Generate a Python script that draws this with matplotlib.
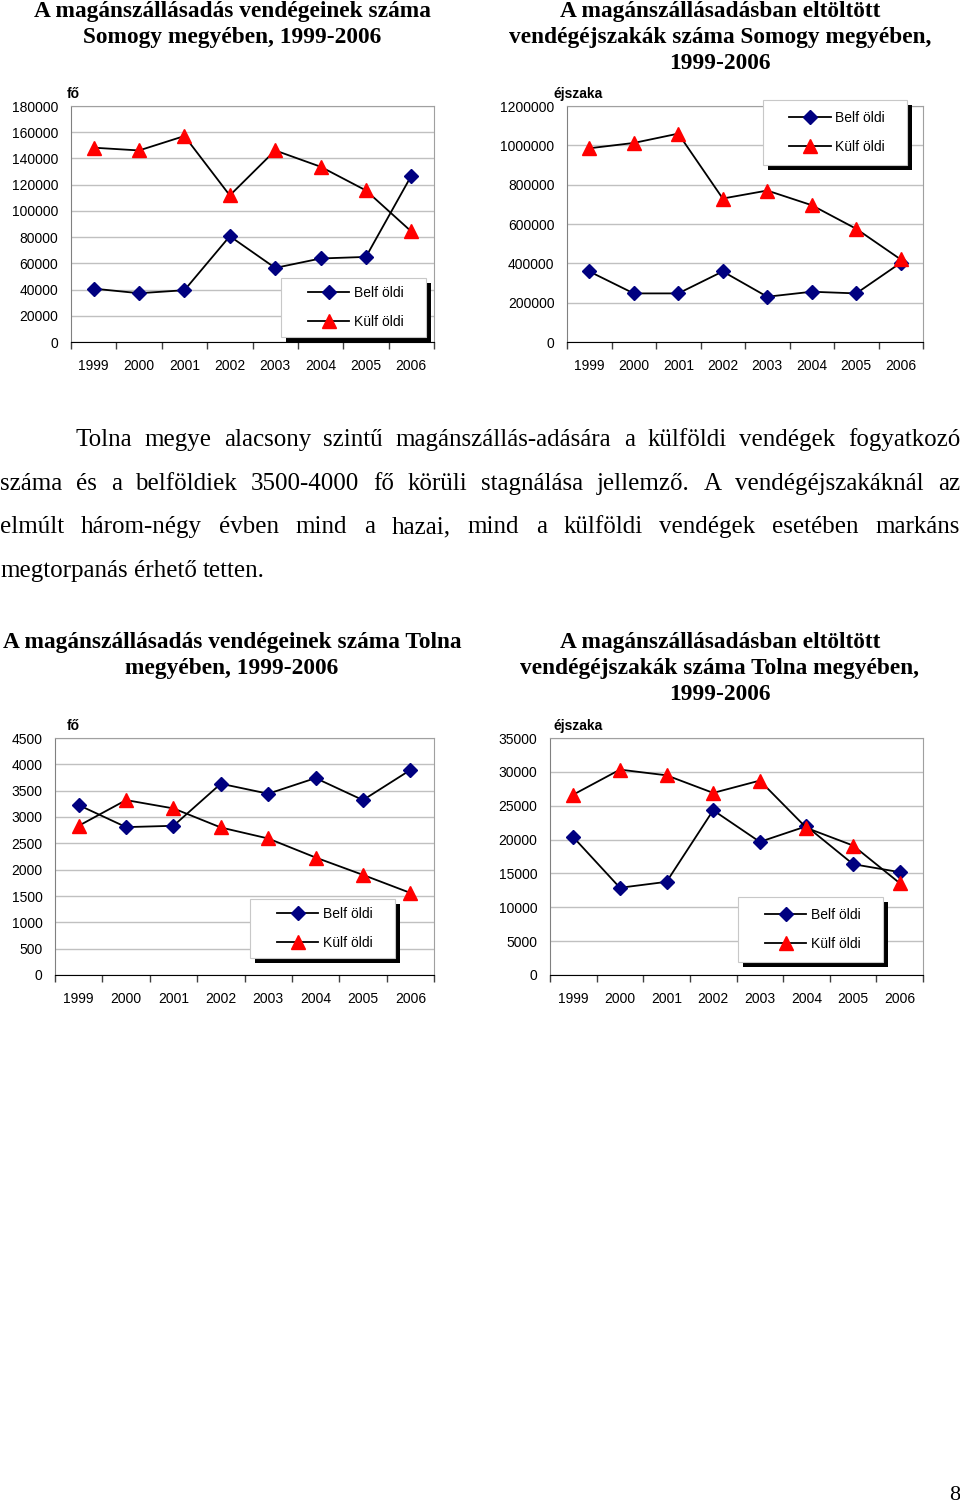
import matplotlib
matplotlib.use('Agg')
import matplotlib.pyplot as plt
from matplotlib.patches import Rectangle

years = ['1999', '2000', '2001', '2002', '2003', '2004', '2005', '2006']

somogy_guests_bel = [40700, 37200, 39500, 80700, 56500, 63700, 64900, 126800]
somogy_guests_kul = [148200, 146100, 157100, 111800, 146100, 133700, 115600, 84300]
somogy_nights_bel = [358800, 247100, 247100, 358800, 230200, 255600, 247100, 402800]
somogy_nights_kul = [985000, 1012100, 1059500, 729500, 770100, 695600, 575500, 419700]
tolna_guests_bel = [3226, 2808, 2833, 3632, 3442, 3739, 3321, 3892]
tolna_guests_kul = [2833, 3321, 3163, 2801, 2592, 2231, 1901, 1559]
tolna_nights_bel = [20350, 12880, 13760, 24330, 19660, 21970, 16370, 15190]
tolna_nights_kul = [26640, 30330, 29490, 26890, 28710, 21730, 19120, 13570]

label_bel = 'Belf öldi'
label_kul = 'Külf öldi'

title1 = ['A magánszállásadás vendégeinek száma', 'Somogy megyében, 1999-2006']
title2 = ['A magánszállásadásban eltöltött', 'vendégéjszakák száma Somogy megyében,', '1999-2006']
title3 = ['A magánszállásadás vendégeinek száma Tolna', 'megyében, 1999-2006']
title4 = ['A magánszállásadásban eltöltött', 'vendégéjszakák száma Tolna megyében,', '1999-2006']

para = [
    'Tolna megye alacsony szintű magánszállás-adására a külföldi vendégek fogyatkozó',
    'száma és a belföldiek 3500-4000 fő körüli stagnálása jellemző. A vendégéjszakáknál az',
    'elmúlt három-négy évben mind a hazai, mind a külföldi vendégek esetében markáns',
    'megtorpanás érhető tetten.',
]

W, H = 960, 1505
SANS = ['Liberation Sans', 'DejaVu Sans']
SERIF = ['Liberation Serif', 'DejaVu Serif']
plt.rcParams['font.family'] = SANS

fig = plt.figure(figsize=(W / 100, H / 100), dpi=100)


def fx(x):
    return x / W


def fy(y):
    return 1 - y / H


def chart(box, bel, kul, ymax, ystep, unit, unit_xy, leg):
    l, t, r, b = box
    ax = fig.add_axes([fx(l), fy(b), (r - l) / W, (b - t) / H])
    x = list(range(len(years)))
    ln1, = ax.plot(x, bel, color='black', lw=1.3, marker='D', ms=7,
                   mfc='#000080', mec='#000080', label=label_bel, zorder=3)
    ln2, = ax.plot(x, kul, color='black', lw=1.3, marker='^', ms=9.5,
                   mfc='#ff0000', mec='#ff0000', label=label_kul, zorder=3)
    ax.set_xlim(-0.5, len(years) - 0.5)
    ax.set_ylim(0, ymax)
    ax.set_yticks(range(0, ymax + 1, ystep))
    ax.set_yticklabels([str(v) for v in range(0, ymax + 1, ystep)], fontsize=10)
    ax.set_xticks(x)
    ax.set_xticklabels(years, fontsize=10)
    ax.set_xticks([i - 0.5 for i in range(len(years) + 1)], minor=True)
    ax.tick_params(axis='x', which='major', length=0, pad=12)
    ax.tick_params(axis='x', which='minor', length=5, width=1, color='#404040')
    ax.tick_params(axis='y', length=0, pad=9)
    ax.grid(axis='y', color='#c0c0c0', lw=1)
    ax.set_axisbelow(True)
    ax.spines['bottom'].set_color('black')
    ax.spines['left'].set_color('#808080')
    for s in ('top', 'right'):
        ax.spines[s].set_color('#a0a0a0')

    fig.text(fx(unit_xy[0]), fy(unit_xy[1]), unit, fontsize=10, fontweight='bold',
             ha='left', va='baseline')

    # legend frame with Excel-like drop shadow
    ll, lt, lr, lb = leg
    ax.add_patch(Rectangle((fx(ll + 5), fy(lb + 5)), (lr - ll) / W, (lb - lt) / H,
                           transform=fig.transFigure, facecolor='black',
                           edgecolor='none', zorder=5, clip_on=False))
    ax.add_patch(Rectangle((fx(ll), fy(lb)), (lr - ll) / W, (lb - lt) / H,
                           transform=fig.transFigure, facecolor='white',
                           edgecolor='#c8c8c8', lw=0.8, zorder=6, clip_on=False))
    lg = ax.legend(handles=[ln1, ln2], loc='center',
                   bbox_to_anchor=(fx((ll + lr) / 2 + 2), fy((lt + lb) / 2)),
                   bbox_transform=fig.transFigure, frameon=False, fontsize=10,
                   handlelength=3.0, handletextpad=0.3, labelspacing=1.05,
                   borderpad=0)
    lg.set_zorder(7)
    return ax


chart((71, 106, 434, 342), somogy_guests_bel, somogy_guests_kul, 180000, 20000,
      'fő', (67, 98), (281, 278, 426, 337))
chart((567, 106, 923, 342), somogy_nights_bel, somogy_nights_kul, 1200000, 200000,
      'éjszaka', (553, 98), (763, 100, 907, 165))
chart((55, 738, 434, 975), tolna_guests_bel, tolna_guests_kul, 4500, 500,
      'fő', (67, 730), (250, 899, 395, 958))
chart((550, 738, 923, 975), tolna_nights_bel, tolna_nights_kul, 35000, 5000,
      'éjszaka', (553, 730), (738, 897, 883, 962))

# chart titles, one text per line
for lines, cx, base in [(title1, 232, 17), (title2, 720, 17), (title3, 232, 648), (title4, 720, 648)]:
    for k, s in enumerate(lines):
        fig.text(fx(cx), fy(base + 26 * k), s, family=SERIF, fontsize=16.8,
                 fontweight='bold', ha='center', va='baseline')

# justified paragraph
renderer = fig.canvas.get_renderer()
baselines = [446, 490, 533, 577]
fs = 18
for i, line in enumerate(para):
    words = line.split(' ')
    x0 = 75 if i == 0 else 0
    x1 = 960
    items = [fig.text(0, fy(baselines[i]), w, family=SERIF, fontsize=fs,
                      ha='left', va='baseline') for w in words]
    widths = [it.get_window_extent(renderer).width for it in items]
    if i == len(para) - 1:
        sp = fig.text(0, 0, 'a a', family=SERIF, fontsize=fs)
        a = fig.text(0, 0, 'aa', family=SERIF, fontsize=fs)
        gap = sp.get_window_extent(renderer).width - a.get_window_extent(renderer).width
        sp.remove()
        a.remove()
    else:
        gap = (x1 - x0 - sum(widths)) / (len(words) - 1)
    pos = x0
    for it, w in zip(items, widths):
        it.set_x(fx(pos))
        pos += w + gap

fig.text(fx(960), fy(1500), '8', family=SERIF, fontsize=16, ha='right', va='baseline')

fig.savefig('out.png', dpi=100)
